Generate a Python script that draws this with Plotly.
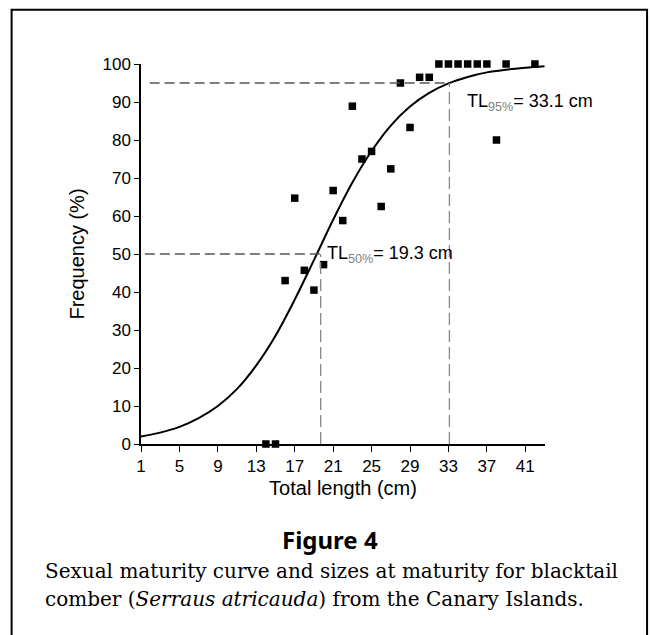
import plotly.graph_objects as go

# ---- data ----
length_cm = [14, 15, 16, 17, 18, 19, 20, 21, 22, 23, 24, 25, 26, 27, 28, 29, 30, 31,
             32, 33, 34, 35, 36, 37, 38, 39, 42]
mature_pct = [0, 0, 43, 64.7, 45.7, 40.5, 47.2, 66.7, 58.8, 88.9, 75, 77, 62.5, 72.4, 95, 83.3, 96.5, 96.5,
              100, 100, 100, 100, 100, 100, 80, 100, 100]

curve_x = [1, 3, 5, 7, 9, 11, 13, 15, 17, 19, 21, 23, 25, 27, 29, 31, 33, 35, 37, 39, 41, 43]
curve_y = [2.0, 3.0, 4.5, 6.8, 10.0, 14.5, 20.7, 28.5, 38.0, 48.4, 59.0, 68.8, 77.1, 83.8, 88.8, 92.4,
           94.9, 96.6, 97.8, 98.5, 99.0, 99.4]

x_ticks = [1, 5, 9, 13, 17, 21, 25, 29, 33, 37, 41]
y_ticks = [0, 10, 20, 30, 40, 50, 60, 70, 80, 90, 100]

tl50_label = "19.3"
tl95_label = "33.1"
tl50_line_x = 19.7
tl95_line_x = 33.1

# ---- layout geometry (pixels) ----
W, H = 650, 635
L, R, T, B = 141.3, 545.0, 64.3, 444.3
PW, PH = R - L, B - T


def xp(px):
    return (px - L) / PW


def yp(py):
    return (B - py) / PH


SANS = "Liberation Sans"
SERIF = "DejaVu Serif"

fig = go.Figure()
fig.add_trace(go.Scatter(x=curve_x, y=curve_y, mode="lines", line=dict(color="black", width=2, shape="spline"),
                         hoverinfo="skip", showlegend=False))
fig.add_trace(go.Scatter(x=length_cm, y=mature_pct, mode="markers",
                         marker=dict(symbol="square", size=7.5, color="black"),
                         cliponaxis=False, showlegend=False))

hdash = dict(color="#555555", width=1.3, dash="10px,5px")
vdash = dict(color="#888888", width=1.3, dash="12px,5px")
shapes = [
    dict(type="line", xref="x", yref="y", x0=1.9, x1=tl95_line_x, y0=95, y1=95, line=hdash),
    dict(type="line", xref="x", yref="y", x0=tl95_line_x, x1=tl95_line_x, y0=0, y1=95, line=vdash),
    dict(type="line", xref="x", yref="y", x0=1.4, x1=tl50_line_x, y0=50, y1=50, line=hdash),
    dict(type="line", xref="x", yref="y", x0=tl50_line_x, x1=tl50_line_x, y0=0, y1=50, line=vdash),
    # outer frame
    dict(type="rect", xref="paper", yref="paper", x0=xp(12), x1=xp(647), y0=yp(640), y1=yp(10),
         line=dict(color="black", width=2), layer="below"),
]

annotations = [
    dict(x=34.7, y=90.0, xref="x", yref="y", xanchor="left", yanchor="middle", showarrow=False,
         text="TL<sub><span style='color:#808080'>95%</span></sub>= " + tl95_label + " cm",
         font=dict(family=SANS, size=18, color="black")),
    dict(x=20.1, y=50.0, xref="x", yref="y", xanchor="left", yanchor="middle", showarrow=False,
         text="TL<sub><span style='color:#808080'>50%</span></sub>= " + tl50_label + " cm",
         font=dict(family=SANS, size=18, color="black")),
    dict(x=xp(330.5), y=yp(540), xref="paper", yref="paper", xanchor="center", yanchor="middle", showarrow=False,
         text="<b>Figure 4</b>", font=dict(family="Noto Sans", size=24, color="black")),
    dict(x=xp(43.3), y=yp(571.7), xref="paper", yref="paper", xanchor="left", yanchor="middle", showarrow=False,
         text="Sexual maturity curve and sizes at maturity for blacktail",
         font=dict(family=SERIF, size=20, color="black")),
    dict(x=xp(43.3), y=yp(599.3), xref="paper", yref="paper", xanchor="left", yanchor="middle", showarrow=False,
         text="comber (<i>Serraus atricauda</i>) from the Canary Islands.",
         font=dict(family=SERIF, size=20, color="black")),
]

fig.update_layout(
    width=W, height=H, autosize=False,
    margin=dict(l=L, r=W - R, t=T, b=H - B, pad=0),
    paper_bgcolor="white", plot_bgcolor="white",
    shapes=shapes, annotations=annotations,
    xaxis=dict(range=[1, 43.05], tickmode="array", tickvals=x_ticks, ticktext=[str(v) for v in x_ticks],
               showgrid=False, zeroline=False, showline=True, linecolor="black", linewidth=1.5,
               ticks="outside", ticklen=6, tickcolor="black", tickwidth=1,
               tickfont=dict(family=SANS, size=17, color="black"),
               title=dict(text="Total length (cm)", font=dict(family=SANS, size=20, color="black"), standoff=6)),
    yaxis=dict(range=[0, 100], tickmode="array", tickvals=y_ticks, ticktext=[str(v) for v in y_ticks],
               showgrid=False, zeroline=False, showline=True, linecolor="black", linewidth=1.5,
               ticks="outside", ticklen=5, tickcolor="black", tickwidth=1,
               tickfont=dict(family=SANS, size=17, color="black"),
               title=dict(text="Frequency (%)", font=dict(family=SANS, size=20, color="black"), standoff=12)),
)

fig.write_html("out.html")
